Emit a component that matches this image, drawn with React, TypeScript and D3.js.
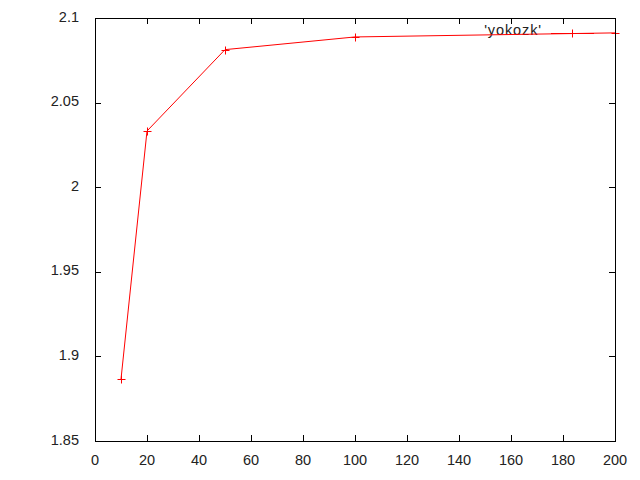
import React, { useRef, useEffect } from 'react';
import * as d3 from 'd3';

const xs = [10, 20, 50, 100, 200];
const ys = [1.8866, 2.0332, 2.0813, 2.0888, 2.0912];
const xTicks = [0, 20, 40, 60, 80, 100, 120, 140, 160, 180, 200];
const yTicks = [1.85, 1.9, 1.95, 2, 2.05, 2.1];
const seriesName = "'yokozk'";

const App = () => {
  const svgRef = useRef<SVGSVGElement>(null);

  useEffect(() => {
    const width = 640;
    const height = 480;
    const left = 95, right = 615, top = 18, bottom = 441;

    const svg = d3.select(svgRef.current);
    svg.selectAll('*').remove();
    svg.append('rect').attr('width', width).attr('height', height).attr('fill', '#fff');

    const x = d3.scaleLinear().domain([0, 200]).range([left, right]);
    const y = d3.scaleLinear().domain([1.85, 2.1]).range([bottom, top]);

    const font = "'Liberation Sans', Arial, sans-serif";
    const fs = 14.5;

    // ticks (inward, mirrored)
    const g = svg.append('g').attr('stroke', '#000').attr('stroke-width', 1);
    xTicks.forEach((t) => {
      const px = Math.round(x(t)) + 0.5;
      g.append('line').attr('x1', px).attr('x2', px).attr('y1', bottom).attr('y2', bottom - 6);
      g.append('line').attr('x1', px).attr('x2', px).attr('y1', top).attr('y2', top + 6);
    });
    yTicks.forEach((t) => {
      const py = Math.round(y(t)) + 0.5;
      g.append('line').attr('x1', left).attr('x2', left + 6).attr('y1', py).attr('y2', py);
      g.append('line').attr('x1', right).attr('x2', right - 6).attr('y1', py).attr('y2', py);
    });

    svg.append('g').selectAll('text').data(xTicks).enter().append('text')
      .attr('x', (d) => x(d))
      .attr('y', bottom + 24)
      .attr('text-anchor', 'middle')
      .attr('font-family', font)
      .attr('font-size', fs)
      .attr('fill', '#222')
      .text((d) => String(d));

    svg.append('g').selectAll('text').data(yTicks).enter().append('text')
      .attr('x', left - 16)
      .attr('y', (d) => y(d) + 3.5)
      .attr('text-anchor', 'end')
      .attr('font-family', font)
      .attr('font-size', fs)
      .attr('fill', '#222')
      .text((d) => String(d));

    // legend
    const ly = 33.5;
    svg.append('text')
      .attr('x', 542)
      .attr('y', ly + 1)
      .attr('text-anchor', 'end')
      .attr('font-family', font)
      .attr('font-size', fs)
      .attr('letter-spacing', 0.9)
      .attr('fill', '#222')
      .text(seriesName);
    svg.append('line').attr('x1', 551).attr('x2', 594).attr('y1', ly).attr('y2', ly)
      .attr('stroke', 'red').attr('stroke-width', 1);
    svg.append('path').attr('d', `M${572 - 4},${ly}h8M${572.5},${ly - 4}v8`)
      .attr('stroke', 'red').attr('stroke-width', 1);

    // data line
    const pts: [number, number][] = xs.map((v, i) => [v, ys[i]]);
    const line = d3.line<[number, number]>().x((d) => x(d[0])).y((d) => y(d[1]));
    svg.append('path').datum(pts).attr('d', line).attr('fill', 'none')
      .attr('stroke', 'red').attr('stroke-width', 1);
    svg.append('g').selectAll('path').data(pts).enter().append('path')
      .attr('d', (d) => {
        const px = Math.round(x(d[0])) + 0.5;
        const py = Math.round(y(d[1])) + 0.5;
        return `M${px - 4},${py}h8M${px},${py - 4}v8`;
      })
      .attr('stroke', 'red').attr('stroke-width', 1);

    // border
    svg.append('rect')
      .attr('x', left + 0.5).attr('y', top + 0.5)
      .attr('width', right - left).attr('height', bottom - top)
      .attr('fill', 'none').attr('stroke', '#000').attr('stroke-width', 1);
  }, []);

  return (
    <svg ref={svgRef} width={640} height={480}
      style={{ position: 'absolute', left: 0, top: 0, display: 'block' }} />
  );
};

export default App;
